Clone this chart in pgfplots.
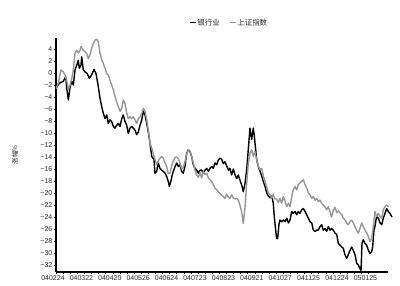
\documentclass[border=0pt]{standalone}
\usepackage{pgfplots}
\pgfplotsset{compat=1.18}
\usepackage{pgfplotstable}
\usepackage{fontspec}
\setmainfont{Liberation Sans}
\newfontfamily\cjk{Noto Sans CJK SC}
\definecolor{grayline}{RGB}{150,150,150}

\pgfplotstableread{
x y
0 -2.6
2.3 -1.7
5.1 -1.4
6.8 -0.6
7.5 -2.4
8.7 -4.5
9.9 -2.4
11.1 -1.4
12.2 -2.0
13.4 0.5
14.6 1.3
15.7 2.1
16.4 0.8
17.6 1.3
18.1 2.7
19.2 0.5
20.4 0.2
22.0 -0.1
23.5 -0.9
25.1 -0.3
26.8 0.6
28.2 -0.1
29.8 -2.3
31.0 -4.2
32.2 -5.6
33.3 -6.7
34.5 -7.6
35.7 -7.0
36.8 -8.4
38.0 -7.8
39.2 -8.1
40.4 -8.9
41.5 -9.2
42.7 -8.7
43.9 -8.4
45.1 -8.9
46.3 -7.6
47.4 -7.0
48.6 -8.1
49.8 -8.7
50.9 -10.1
52.1 -9.2
53.3 -8.9
54.4 -9.2
55.6 -9.5
56.8 -10.3
58.0 -9.8
59.2 -8.7
60.4 -7.8
61.5 -6.4
62.7 -7.0
63.9 -8.4
65.0 -9.8
66.2 -11.7
67.4 -13.9
69.0 -14.4
69.7 -16.7
70.9 -16.4
72.0 -15.0
73.2 -15.9
74.4 -16.2
75.6 -16.4
76.8 -16.7
78.0 -17.3
79.1 -18.1
79.8 -18.9
80.8 -18.1
82.2 -16.7
83.8 -15.6
85.0 -15.0
86.1 -15.6
87.3 -15.3
88.5 -16.4
89.6 -16.7
90.8 -15.6
92.0 -13.4
93.2 -12.8
94.4 -13.1
95.6 -14.0
96.7 -15.3
97.9 -15.9
99.1 -16.2
100.2 -16.7
101.4 -16.2
102.6 -16.2
103.7 -16.7
104.9 -16.2
106.1 -15.9
107.3 -16.4
108.5 -15.9
109.6 -15.6
110.8 -15.9
112.0 -15.0
113.2 -15.3
114.3 -14.5
115.5 -14.2
116.7 -14.4
117.8 -15.1
119.0 -14.8
120.2 -15.5
121.4 -16.2
122.5 -15.9
123.7 -17.0
124.9 -16.0
126.1 -17.0
127.3 -17.6
128.4 -17.0
129.6 -17.9
130.8 -18.7
131.9 -19.8
133.1 -18.4
134.3 -16.1
135.4 -12.8
136.6 -9.2
137.8 -11.1
138.9 -9.2
139.6 -10.3
140.1 -11.6
141.3 -14.4
142.5 -15.6
143.7 -16.4
144.9 -17.2
146.0 -18.1
147.2 -18.9
148.4 -20.0
149.5 -20.5
150.7 -20.8
151.9 -20.5
153.0 -21.7
153.7 -23.9
154.7 -26.2
155.4 -27.6
156.1 -27.6
157.0 -25.3
157.7 -24.5
158.9 -24.8
160.1 -24.5
161.3 -24.8
162.5 -24.2
163.6 -25.0
164.8 -24.5
166.0 -23.1
167.1 -23.4
168.3 -23.1
169.5 -23.6
170.6 -23.1
171.8 -23.4
173.0 -22.8
174.2 -22.6
175.4 -23.1
176.5 -23.6
177.7 -24.2
178.9 -24.8
180.1 -25.0
181.2 -26.2
182.4 -26.4
183.6 -26.2
184.7 -26.2
185.9 -25.6
187.1 -25.3
188.2 -26.2
189.4 -25.9
190.6 -26.4
191.8 -25.6
193.0 -26.2
194.1 -25.9
195.3 -26.2
196.5 -26.7
197.7 -26.9
198.8 -28.4
200.0 -28.7
201.2 -29.0
202.3 -29.2
203.5 -30.3
204.7 -30.9
205.8 -30.3
207.0 -29.6
208.2 -29.0
209.4 -29.6
210.6 -30.3
211.7 -31.7
212.9 -32.0
214.1 -32.6
214.8 -32.9
215.5 -28.4
216.4 -27.8
217.6 -28.4
218.8 -28.7
219.9 -29.5
221.1 -30.1
222.3 -29.8
223.0 -29.0
223.9 -26.2
224.6 -25.6
225.8 -23.9
227.0 -24.2
228.2 -25.0
229.4 -25.3
230.5 -24.2
231.7 -23.4
232.9 -22.6
234.0 -23.1
235.2 -23.4
236.6 -24.0
}\bankdata

\pgfplotstableread{
x y
0 -2.6
1.6 -1.7
3.5 0.5
5.1 0.2
6.3 -0.3
7.5 -1.2
8.7 -2.8
9.9 -2.0
11.1 -0.9
12.2 0.5
13.4 3.3
14.6 3.8
15.7 3.3
16.9 3.8
17.6 4.4
19.2 3.8
21.6 3.3
22.7 2.4
23.9 3.0
25.1 4.1
26.3 4.9
27.5 5.5
28.7 5.6
29.8 5.2
31.0 3.3
32.2 2.2
33.3 1.6
34.5 0.8
35.7 -0.1
36.8 -0.3
38.0 -1.2
39.2 -2.0
40.4 -2.8
41.5 -3.9
42.7 -4.8
43.9 -5.6
45.1 -6.4
46.3 -5.9
47.4 -4.5
48.6 -5.1
49.8 -6.7
50.9 -7.6
52.1 -7.3
53.3 -7.6
54.4 -7.3
55.6 -7.8
56.8 -8.4
58.0 -7.6
59.2 -7.3
60.4 -6.7
61.5 -5.9
62.7 -6.4
63.9 -7.8
65.0 -9.5
66.2 -11.7
67.4 -12.5
69.7 -14.4
70.9 -15.3
72.0 -14.7
73.2 -14.2
74.4 -13.9
75.6 -14.2
76.8 -15.0
78.0 -15.6
79.1 -16.8
80.3 -16.7
81.5 -15.4
82.6 -14.7
83.8 -14.1
85.0 -14.0
86.1 -14.3
87.3 -15.0
88.5 -16.0
89.6 -15.8
90.8 -14.8
92.0 -13.6
93.2 -12.8
94.4 -13.0
95.6 -14.0
96.7 -15.0
97.9 -16.2
99.1 -17.0
100.2 -17.4
101.4 -16.6
102.6 -17.5
103.7 -16.4
104.9 -16.9
106.1 -16.7
107.3 -17.5
108.5 -17.8
109.6 -18.1
110.8 -18.6
112.0 -19.2
113.2 -19.5
114.3 -19.8
115.5 -20.1
116.7 -20.4
117.8 -20.6
119.0 -20.9
120.2 -20.2
121.4 -20.7
122.5 -20.9
123.7 -20.3
124.9 -20.9
126.1 -21.0
127.3 -20.9
128.4 -21.2
129.6 -22.1
130.8 -23.2
131.9 -25.1
133.1 -22.4
134.3 -18.4
135.4 -15.1
136.6 -13.4
137.8 -12.8
138.9 -13.9
140.1 -13.1
141.3 -14.4
142.5 -15.5
143.7 -16.1
144.9 -15.9
146.0 -17.2
147.2 -18.1
148.4 -19.0
149.5 -20.0
150.7 -20.2
151.9 -20.9
153.0 -20.2
154.2 -21.0
155.4 -21.0
156.5 -21.6
157.7 -20.9
158.9 -21.7
160.1 -20.6
161.3 -21.4
162.5 -22.3
163.6 -21.7
164.8 -22.3
166.0 -20.6
167.1 -19.5
168.3 -18.9
169.5 -19.5
170.6 -18.6
171.8 -18.3
173.0 -18.1
174.2 -17.8
175.4 -18.6
176.5 -19.2
177.7 -20.0
178.9 -20.3
180.1 -20.9
181.2 -20.6
182.4 -21.2
183.6 -20.9
184.7 -21.4
185.9 -21.2
187.1 -21.7
188.2 -22.0
189.4 -22.3
190.6 -22.8
191.8 -22.3
193.0 -23.2
194.1 -24.0
195.3 -22.9
196.5 -22.4
197.7 -23.3
198.8 -23.0
200.0 -23.3
201.2 -23.6
202.3 -24.2
203.5 -24.5
204.7 -25.0
205.8 -25.3
207.0 -24.8
208.2 -24.5
209.4 -25.0
210.6 -25.6
211.7 -26.2
212.9 -26.7
214.1 -25.9
215.3 -25.0
216.4 -25.6
217.6 -26.2
218.8 -26.7
219.9 -27.2
221.1 -28.1
222.3 -27.6
223.0 -26.5
223.9 -24.6
224.6 -23.1
225.8 -23.9
227.0 -23.4
228.2 -23.9
229.4 -24.2
230.5 -22.8
231.7 -22.3
232.9 -22.0
234.0 -22.3
}\szdata

\begin{document}
\begin{tikzpicture}
\path[use as bounding box] (-56bp,-14bp) rectangle (344bp,272bp);
\begin{axis}[
  at={(0,0)}, anchor=south west,
  scale only axis, width=332bp, height=234bp,
  xmin=0, xmax=233.8, ymin=-33.17, ymax=5.83,
  clip=false,
  axis lines*=left,
  axis line style={line width=1.1bp, black},
  xtick={0,20,...,220},
  xticklabels={040224,040322,040420,040526,040624,040723,040823,040921,041027,041125,041224,050125},
  ytick={-32,-30,...,4},
  yticklabels={−32,−30,−28,−26,−24,−22,−20,−18,−16,−14,−12,−10,−8,−6,−4,−2,0,2,4},
  minor x tick num=3,
  tick align=outside,
  major tick length=2bp, minor tick length=1.5bp,
  tick style={black, line width=0.6bp},
  tick label style={font=\fontsize{7}{8}\selectfont, text=black!85},
  xticklabel style={xshift=-3bp, inner sep=1.5bp},
  yticklabel style={inner sep=1.5bp},
  ylabel={\cjk 涨幅\%},
  ylabel style={font=\fontsize{6.5}{7}\selectfont, text=black!85, at={(axis description cs:-0.1235,0.5)}, anchor=center},
  legend style={draw=none, fill=none, at={(axis description cs:0.52,1.065)}, anchor=center,
    legend columns=2, font=\cjk\fontsize{7.5}{9}\selectfont, text=black!85,
    /tikz/every even column/.append style={column sep=8bp},
    nodes={inner xsep=1bp}},
  legend image code/.code={\draw[#1] (0bp,0bp) -- (6bp,0bp);},
]
\addplot[black, line width=1.4bp, line join=round] table[x=x,y=y] {\bankdata};
\addlegendentry{银行业}
\addplot[grayline, line width=1.4bp, line join=round] table[x=x,y=y] {\szdata};
\addlegendentry{上证指数}
\end{axis}
\end{tikzpicture}
\end{document}
